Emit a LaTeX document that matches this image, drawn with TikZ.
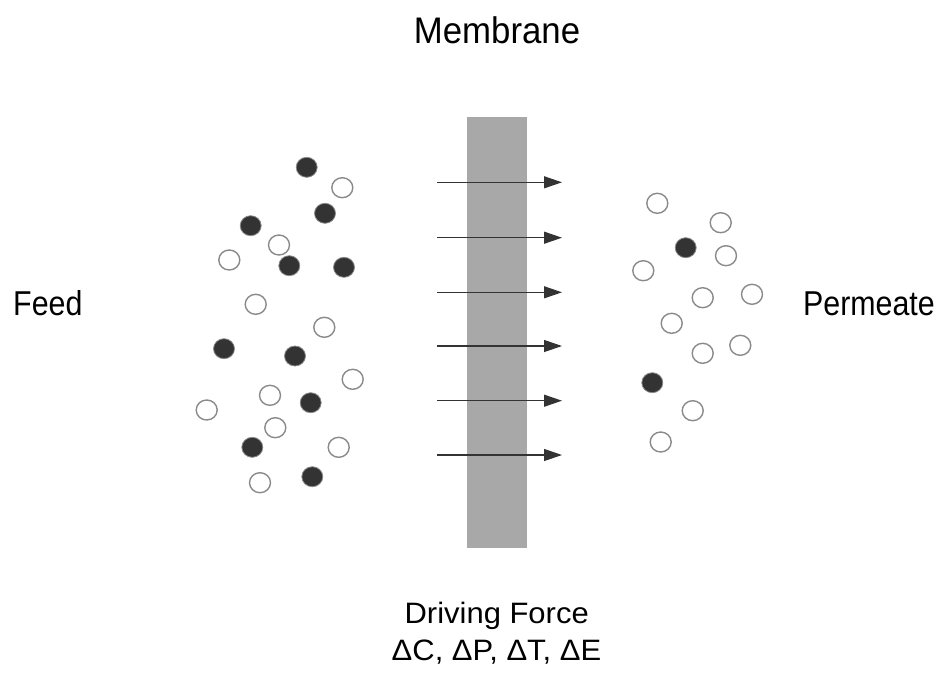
\documentclass[tikz,border=0pt]{standalone}
\usepackage{fontspec}
\setmainfont{Liberation Sans}
\usetikzlibrary{arrows.meta,shapes.geometric}
\definecolor{memgray}{HTML}{A8A8A8}
\definecolor{dotdark}{HTML}{333333}
\definecolor{ringgray}{HTML}{8A8A8A}
\begin{document}
\begin{tikzpicture}[x=1pt,y=-1pt,
  opencirc/.style={ellipse,draw=ringgray,line width=1.4pt,fill=white,minimum width=21pt,minimum height=20pt,inner sep=0pt},
  fullcirc/.style={ellipse,draw=ringgray,line width=0.8pt,fill=dotdark,minimum width=21pt,minimum height=20pt,inner sep=0pt},
  flow/.style={draw=black!80,line width=1.2pt,-{Triangle[length=18pt,width=12pt]}},
  lbl/.style={inner sep=0pt,text=black}
]
\useasboundingbox (0,0) rectangle (943,673);
\fill[white] (0,0) rectangle (943,673);
% membrane
\node[fill=memgray,draw=none,minimum width=60pt,minimum height=431pt,inner sep=0pt] (mem) at (497,332.5) {};
% arrows
\foreach \i/\y in {1/182.3,2/237.7,3/292.3,4/346,5/400.7,6/455}{
  \coordinate (s\i) at (437,\y);
  \coordinate (e\i) at (562,\y);
  \draw[flow] (s\i) -- (e\i);
}
% feed circles, filled
\node[fullcirc] (f1) at (306.7,167.3) {};
\node[fullcirc] (f2) at (325,213.3) {};
\node[fullcirc] (f3) at (250.7,225.7) {};
\node[fullcirc] (f4) at (289.3,265.7) {};
\node[fullcirc] (f5) at (344,267.3) {};
\node[fullcirc] (f6) at (224,348.7) {};
\node[fullcirc] (f7) at (295,356) {};
\node[fullcirc] (f8) at (310.7,402.7) {};
\node[fullcirc] (f9) at (252.3,447.3) {};
\node[fullcirc] (f10) at (312.3,476.7) {};
% feed circles, open
\node[opencirc] (g1) at (342.3,187.7) {};
\node[opencirc] (g2) at (279,245) {};
\node[opencirc] (g3) at (229.3,260) {};
\node[opencirc] (g4) at (255.7,304.3) {};
\node[opencirc] (g5) at (324.3,327.3) {};
\node[opencirc] (g6) at (352.7,379.3) {};
\node[opencirc] (g7) at (270,395.3) {};
\node[opencirc] (g8) at (206.7,410) {};
\node[opencirc] (g9) at (275.3,427.7) {};
\node[opencirc] (g10) at (338.7,447.3) {};
\node[opencirc] (g11) at (260,482.7) {};
% permeate circles
\node[opencirc] (p1) at (657.3,203.3) {};
\node[opencirc] (p2) at (720.7,222.7) {};
\node[opencirc] (p3) at (726,255.7) {};
\node[opencirc] (p4) at (643.3,270.7) {};
\node[opencirc] (p5) at (702.7,297.7) {};
\node[opencirc] (p6) at (752,294.3) {};
\node[opencirc] (p7) at (671.7,323.3) {};
\node[opencirc] (p8) at (702.7,353.3) {};
\node[opencirc] (p9) at (740.3,345.3) {};
\node[opencirc] (p10) at (692.7,410.7) {};
\node[opencirc] (p11) at (660.7,442) {};
\node[fullcirc] (q1) at (685.7,247.7) {};
\node[fullcirc] (q2) at (652.3,382.7) {};
% labels
\node[lbl,anchor=base] (tmem) at (497,43) {\fontsize{37}{40}\selectfont\scalebox{0.94}[1]{Membrane}};
\node[lbl,anchor=base west] (tfeed) at (13,315) {\fontsize{34.5}{40}\selectfont\scalebox{0.88}[1]{Feed}};
\node[lbl,anchor=base west] (tperm) at (803,315) {\fontsize{34.5}{40}\selectfont\scalebox{0.88}[1]{Permeate}};
\node[lbl,anchor=base] (tdf) at (496.7,623) {\fontsize{29.5}{34}\selectfont\scalebox{1.05}[1]{Driving Force}};
\node[lbl,anchor=base] (tdel) at (496.5,660) {\fontsize{29.5}{34}\selectfont\scalebox{1.05}[1]{ΔC, ΔP, ΔT, ΔE}};
\end{tikzpicture}
\end{document}
